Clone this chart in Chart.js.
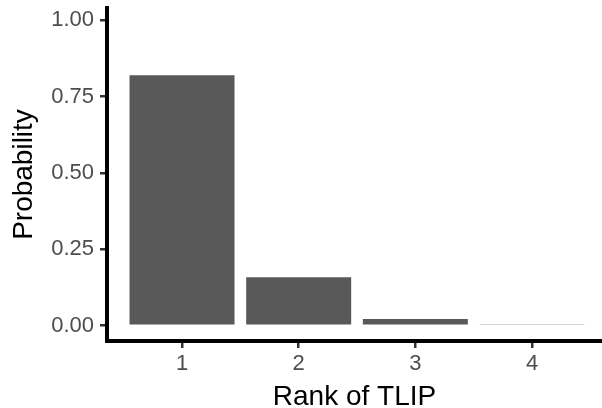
<!DOCTYPE html>
<html>
<head>
<meta charset="utf-8">
<script src="https://cdn.jsdelivr.net/npm/chart.js@4"></script>
<style>
  html, body { margin: 0; padding: 0; background: #fff; }
  #wrap { width: 602px; height: 408px; }
</style>
</head>
<body>
<div id="wrap"><canvas id="chart" width="602" height="408"></canvas></div>
<script>
// values
const ranks = [1, 2, 3, 4];
const rankLabels = ["1", "2", "3", "4"];
const probabilities = [0.82, 0.159, 0.022, 0.005];
const yTicks = [0, 0.25, 0.5, 0.75, 1];

const FONT = "'Liberation Sans', Arial, Helvetica, sans-serif";

// shared axis styling (ggplot classic look: thick black line, short grey ticks)
const axisGrid = {
  offset: false,
  drawOnChartArea: false,
  drawTicks: true,
  tickLength: 7,
  tickColor: "#333333",
  tickWidth: 2.5,
  lineWidth: 2.5,
};
const axisBorder = { display: true, color: "#000000", width: 4 };

const chart = new Chart(document.getElementById("chart"), {
  type: "bar",
  data: {
    datasets: [
      {
        data: ranks.map((r, i) => ({ x: r, y: probabilities[i] })),
        backgroundColor: "#595959",
        borderWidth: 0,
        barPercentage: 0.9,
        categoryPercentage: 1.0,
      },
    ],
  },
  options: {
    responsive: false,
    animation: false,
    layout: { padding: { top: 8, right: 0, bottom: 0, left: 0 } },
    plugins: {
      legend: { display: false },
      tooltip: { enabled: false },
    },
    scales: {
      x: {
        type: "linear",
        min: 0.357,
        max: 4.6,
        offset: false,
        afterBuildTicks: (scale) => {
          scale.ticks = ranks.map((v) => ({ value: v }));
        },
        afterFit: (scale) => {
          scale.height = 67;
          scale.paddingLeft = 0;
          scale.paddingRight = 0;
        },
        ticks: {
          color: "#4D4D4D",
          font: { family: FONT, size: 22 },
          padding: 3,
          maxRotation: 0,
          autoSkip: false,
          callback: (value) => rankLabels[ranks.indexOf(value)],
        },
        grid: axisGrid,
        border: axisBorder,
        title: {
          display: true,
          text: "Rank of TLIP",
          color: "#000000",
          font: { family: FONT, size: 28, lineHeight: 0.8 },
          padding: { top: 0, bottom: 0 },
        },
      },
      y: {
        min: -0.05,
        max: 1.04,
        afterBuildTicks: (scale) => {
          scale.ticks = yTicks.map((v) => ({ value: v }));
        },
        afterFit: (scale) => {
          scale.width = 107;
          scale.paddingTop = 0;
          scale.paddingBottom = 0;
        },
        ticks: {
          color: "#4D4D4D",
          font: { family: FONT, size: 22 },
          padding: 6,
          callback: (value) => value.toFixed(2),
        },
        grid: axisGrid,
        border: axisBorder,
        title: {
          display: true,
          text: "Probability",
          color: "#000000",
          font: { family: FONT, size: 28, lineHeight: 1 },
          padding: { top: 10, bottom: 0 },
        },
      },
    },
  },
});
</script>
</body>
</html>
